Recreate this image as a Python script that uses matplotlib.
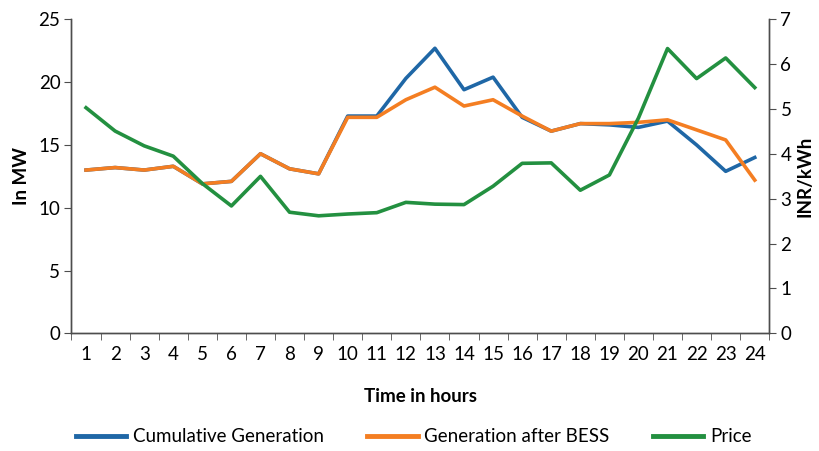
import matplotlib.pyplot as plt
from matplotlib.ticker import FixedLocator

hours = list(range(1, 25))
cumulative = [13.0, 13.2, 13.0, 13.3, 11.9, 12.1, 14.3, 13.1, 12.7, 17.3, 17.3, 20.3,
              22.7, 19.4, 20.4, 17.2, 16.1, 16.7, 16.6, 16.4, 16.9, 15.0, 12.9, 14.0]
after_bess = [13.0, 13.2, 13.0, 13.3, 11.9, 12.1, 14.3, 13.1, 12.7, 17.2, 17.2, 18.6,
              19.6, 18.1, 18.6, 17.3, 16.1, 16.7, 16.7, 16.8, 17.0, 16.2, 15.4, 12.2]
price = [5.03, 4.51, 4.18, 3.95, 3.34, 2.84, 3.50, 2.70, 2.62, 2.66, 2.69, 2.92,
         2.88, 2.87, 3.28, 3.79, 3.80, 3.19, 3.53, 4.80, 6.35, 5.68, 6.14, 5.48]

plt.rcParams['font.family'] = ['Lato', 'DejaVu Sans']
spine_col = '#4d4d4d'
fs = 13.5

fig = plt.figure(figsize=(8.19, 4.51), dpi=100)
ax = fig.add_axes([0.0873, 0.261, 0.852, 0.696])
ax2 = ax.twinx()

l1, = ax.plot(hours, cumulative, color='#1f67a6', lw=2.6, label='Cumulative Generation')
l2, = ax.plot(hours, after_bess, color='#f47e22', lw=2.6, label='Generation after BESS')
l3, = ax2.plot(hours, price, color='#239040', lw=2.6, label='Price')

ax.set_xlim(0.5, 24.5)
ax.set_ylim(0, 25)
ax2.set_ylim(0, 7)
ax.set_yticks(range(0, 26, 5))
ax2.set_yticks(range(0, 8))
ax.set_xticks(hours)
ax.xaxis.set_minor_locator(FixedLocator([h + 0.5 for h in range(0, 25)]))
ax.tick_params(axis='x', which='major', length=0, pad=9, labelsize=fs, colors='black')
ax.tick_params(axis='x', which='minor', length=5, color=spine_col)
ax.tick_params(axis='y', length=5, color=spine_col, labelsize=fs, pad=3)
ax2.tick_params(axis='y', length=5, color=spine_col, labelsize=fs, pad=3)

for a in (ax, ax2):
    a.spines['top'].set_visible(False)
    for s in ('left', 'right', 'bottom'):
        a.spines[s].set_color(spine_col)
        a.spines[s].set_linewidth(1.0)

ax.set_ylabel('In MW', fontweight='bold', fontsize=fs, labelpad=6)
ax2.set_ylabel('INR/kWh', fontweight='bold', fontsize=fs, labelpad=4)
ax.set_xlabel('Time in hours', fontweight='bold', fontsize=fs, labelpad=18)

fig.legend(handles=[l1, l2, l3], loc='center', bbox_to_anchor=(0.505, 0.032), ncol=3,
           frameon=False, fontsize=fs, handlelength=2.7, columnspacing=2.3,
           handletextpad=0.35)
for line in fig.legends[0].get_lines():
    line.set_linewidth(3.5)

fig.savefig('out.png', dpi=100)
